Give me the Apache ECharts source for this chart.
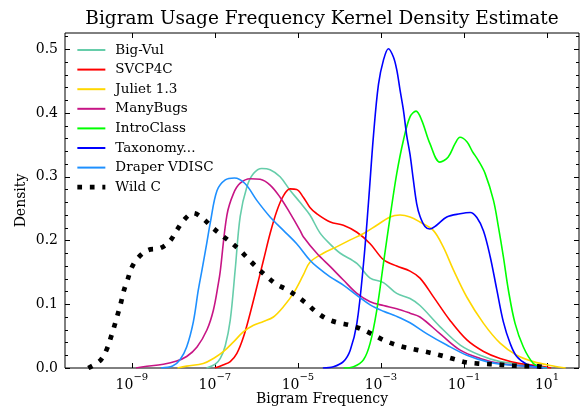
<!DOCTYPE html>
<html><head><meta charset="utf-8">
<script src="https://cdn.jsdelivr.net/npm/echarts@6/dist/echarts.min.js"></script>
<style>html,body{margin:0;padding:0;background:#fff}#c{width:581px;height:408px}</style>
</head><body><div id="c"></div>
<script>
// x values are log10(Bigram Frequency)
const seriesNames = ['Big-Vul','SVCP4C','Juliet 1.3','ManyBugs','IntroClass','Taxonomy...','Draper VDISC','Wild C'];
const seriesColors = ['#66CDAA','#FF0000','#FFD700','#C71585','#00FF00','#0000FF','#1E90FF','#000000'];

const bigVul = [[-7.2,0],[-6.99,0.006],[-6.87,0.015],[-6.75,0.035],[-6.63,0.075],[-6.51,0.155],[-6.39,0.238],[-6.23,0.284],[-6.07,0.305],[-5.87,0.313],[-5.67,0.311],[-5.43,0.300],[-5.19,0.279],[-4.95,0.260],[-4.71,0.240],[-4.47,0.212],[-4.22,0.194],[-3.98,0.180],[-3.58,0.164],[-3.26,0.141],[-2.94,0.134],[-2.62,0.117],[-2.30,0.109],[-2.06,0.098],[-1.58,0.065],[-1.09,0.036],[-0.61,0.020],[-0.13,0.010],[0.51,0.005],[1.0,0]];
const svcp4c = [[-7.0,0],[-6.79,0.005],[-6.63,0.010],[-6.47,0.023],[-6.31,0.049],[-6.15,0.086],[-5.99,0.127],[-5.83,0.169],[-5.67,0.211],[-5.51,0.246],[-5.35,0.270],[-5.19,0.281],[-5.03,0.280],[-4.87,0.268],[-4.71,0.252],[-4.545,0.242],[-4.22,0.229],[-3.905,0.224],[-3.58,0.213],[-3.26,0.195],[-2.94,0.170],[-2.62,0.160],[-2.30,0.152],[-2.06,0.141],[-1.74,0.112],[-1.34,0.075],[-0.93,0.044],[-0.53,0.026],[-0.13,0.015],[0.35,0.007],[0.83,0.003],[1.1,0]];
const juliet = [[-7.9,0],[-7.68,0.003],[-7.28,0.007],[-7.035,0.015],[-6.79,0.026],[-6.55,0.041],[-6.31,0.057],[-6.07,0.067],[-5.83,0.073],[-5.59,0.080],[-5.35,0.096],[-5.11,0.117],[-4.87,0.146],[-4.71,0.166],[-4.39,0.180],[-4.07,0.190],[-3.74,0.201],[-3.42,0.211],[-3.10,0.224],[-2.78,0.237],[-2.54,0.240],[-2.30,0.237],[-2.06,0.229],[-1.74,0.216],[-1.50,0.190],[-1.255,0.154],[-0.93,0.111],[-0.53,0.070],[-0.13,0.039],[0.27,0.020],[0.67,0.010],[1.15,0.003],[1.45,0]];
const manyBugs = [[-8.9,0],[-8.72,0.002],[-8.24,0.006],[-7.92,0.011],[-7.68,0.018],[-7.43,0.033],[-7.19,0.060],[-7.035,0.091],[-6.915,0.133],[-6.87,0.152],[-6.71,0.240],[-6.55,0.274],[-6.39,0.290],[-6.15,0.297],[-5.91,0.296],[-5.67,0.287],[-5.43,0.268],[-5.19,0.243],[-4.95,0.216],[-4.87,0.206],[-4.545,0.180],[-4.22,0.159],[-3.905,0.138],[-3.58,0.117],[-3.26,0.104],[-2.94,0.098],[-2.62,0.093],[-2.30,0.086],[-2.06,0.080],[-1.58,0.054],[-1.09,0.028],[-0.61,0.015],[-0.13,0.007],[0.51,0.003],[1.0,0]];
const introClass = [[-3.9,0],[-3.66,0.002],[-3.42,0.013],[-3.26,0.039],[-3.10,0.091],[-2.94,0.164],[-2.78,0.237],[-2.62,0.305],[-2.46,0.357],[-2.30,0.394],[-2.155,0.403],[-2.02,0.389],[-1.82,0.352],[-1.58,0.323],[-1.38,0.331],[-1.215,0.352],[-1.095,0.362],[-0.93,0.355],[-0.80,0.340],[-0.65,0.325],[-0.49,0.305],[-0.29,0.263],[-0.17,0.221],[-0.05,0.174],[0.07,0.122],[0.23,0.070],[0.43,0.033],[0.67,0.007],[0.83,0.002],[1.0,0]];
const taxonomy = [[-4.4,0],[-4.145,0.002],[-3.905,0.010],[-3.74,0.028],[-3.58,0.070],[-3.42,0.164],[-3.30,0.260],[-3.18,0.365],[-3.06,0.445],[-2.94,0.483],[-2.82,0.501],[-2.70,0.488],[-2.62,0.468],[-2.54,0.436],[-2.46,0.405],[-2.38,0.365],[-2.30,0.335],[-2.22,0.295],[-2.14,0.258],[-2.06,0.238],[-1.94,0.222],[-1.82,0.218],[-1.66,0.224],[-1.415,0.237],[-1.095,0.242],[-0.85,0.244],[-0.69,0.236],[-0.53,0.215],[-0.37,0.175],[-0.21,0.123],[-0.05,0.072],[0.115,0.038],[0.27,0.018],[0.51,0.006],[0.75,0.001],[0.9,0]];
const draper = [[-8.3,0],[-8.02,0.003],[-7.84,0.013],[-7.68,0.033],[-7.52,0.072],[-7.40,0.122],[-7.31,0.154],[-7.19,0.198],[-7.11,0.228],[-6.95,0.278],[-6.75,0.295],[-6.53,0.298],[-6.27,0.289],[-5.99,0.263],[-5.67,0.237],[-5.35,0.216],[-5.03,0.195],[-4.71,0.169],[-4.545,0.159],[-4.225,0.143],[-3.905,0.130],[-3.58,0.114],[-3.26,0.099],[-2.94,0.089],[-2.62,0.081],[-2.30,0.071],[-1.90,0.054],[-1.415,0.036],[-0.93,0.020],[-0.45,0.010],[0.03,0.005],[0.66,0.002],[1.0,0]];
const wildC = [[-10.05,0],[-9.75,0.0125],[-9.60,0.030],[-9.51,0.047],[-9.42,0.066],[-9.34,0.084],[-9.26,0.103],[-9.19,0.122],[-9.10,0.139],[-9.0,0.158],[-8.85,0.173],[-8.61,0.185],[-8.32,0.188],[-8.085,0.199],[-7.92,0.216],[-7.75,0.232],[-7.52,0.243],[-7.28,0.234],[-7.07,0.221],[-6.83,0.208],[-6.61,0.197],[-6.385,0.184],[-6.18,0.170],[-5.96,0.156],[-5.74,0.143],[-5.51,0.131],[-5.26,0.123],[-5.01,0.112],[-4.77,0.100],[-4.56,0.088],[-4.30,0.077],[-4.03,0.071],[-3.74,0.067],[-3.47,0.061],[-3.21,0.053],[-2.94,0.044],[-2.67,0.037],[-2.40,0.032],[-2.11,0.028],[-1.82,0.024],[-1.51,0.019],[-1.24,0.014],[-0.96,0.009],[-0.655,0.007],[-0.37,0.006],[-0.08,0.005],[0.21,0.0035],[0.51,0.003],[0.79,0.0027],[1.0,0]];

const xTickExponents = [-9,-7,-5,-3,-1,1];
const yMajorTicks = [0,0.1,0.2,0.3,0.4,0.5];
const yMinorTicks = [0,0.02,0.04,0.06,0.08,0.1,0.12,0.14,0.16,0.18,0.2,0.22,0.24,0.26,0.28,0.3,0.32,0.34,0.36,0.38,0.4,0.42,0.44,0.46,0.48,0.5,0.52];

const allData = [bigVul, svcp4c, juliet, manyBugs, introClass, taxonomy, draper, wildC];
const F = 'DejaVu Serif';
const X_MIN = -10.61, X_MAX = 1.77, Y_MAX = 0.5256;
const WILD_DASH = {width:4.7, type:[4.7,7.8], cap:'butt'};

function yAx(pos, ticks, len, labels, name) {
  return {
    type:'value', min:0, max:Y_MAX, position:pos, gridIndex:0,
    name: name || '', nameLocation:'middle', nameGap:37, nameRotate:90, nameMoveOverlap:false,
    nameTextStyle:{fontFamily:F, fontSize:14, color:'#000'},
    axisLine:{show:false, onZero:false}, splitLine:{show:false},
    axisTick:{show:true, inside:true, length:len, customValues:ticks, lineStyle:{color:'#000', width:1}},
    axisLabel:{show:labels, customValues:ticks, margin:7, fontFamily:F, fontSize:14, color:'#000',
      formatter: v => v.toFixed(1)}
  };
}
function xAx(pos, labels, name) {
  return {
    type:'value', min:X_MIN, max:X_MAX, position:pos, gridIndex:0,
    name: name || '', nameLocation:'middle', nameGap:24, nameMoveOverlap:false,
    nameTextStyle:{fontFamily:F, fontSize:14, color:'#000'},
    axisLine:{show:false, onZero:false}, splitLine:{show:false},
    axisTick:{show:true, inside:true, length:5, customValues:xTickExponents, lineStyle:{color:'#000', width:1}},
    axisLabel:{show:labels, customValues:xTickExponents, margin:4, color:'#000',
      formatter: v => '{b|10}{s|' + (v < 0 ? '\u2212' + (-v) : String(v)) + '}',
      rich:{ b:{fontFamily:F, fontSize:14, color:'#000', lineHeight:20, verticalAlign:'bottom'},
             s:{fontFamily:F, fontSize:10, color:'#000', lineHeight:12, verticalAlign:'top'} }
    }
  };
}

const chart = echarts.init(document.getElementById('c'), null, {renderer:'canvas'});
chart.setOption({
  animation:false,
  backgroundColor:'#fff',
  title:{text:'Bigram Usage Frequency Kernel Density Estimate', left:317, top:5, textAlign:'center',
    textStyle:{fontFamily:F, fontSize:18.5, fontWeight:'normal', color:'#000'}},
  grid:{left:65, right:2, top:33, bottom:40, show:true, borderColor:'#000', borderWidth:1,
    backgroundColor:'transparent', outerBoundsMode:'none', containLabel:false},
  legend:{orient:'vertical', left:70, top:38, itemWidth:28, itemHeight:14, itemGap:5.6,
    itemStyle:{opacity:0},
    textStyle:{fontFamily:F, fontSize:13.5, lineHeight:14, color:'#000', padding:[0,0,0,5]},
    data: seriesNames.map((n, i) => i === 7 ? {name:n, lineStyle:Object.assign({color:'#000'}, WILD_DASH)} : n)},
  xAxis:[xAx('bottom', true, 'Bigram Frequency'), xAx('top', false)],
  yAxis:[yAx('left', yMajorTicks, 5, true, 'Density'), yAx('right', yMajorTicks, 5, false),
         yAx('left', yMinorTicks, 3, false), yAx('right', yMinorTicks, 3, false)],
  series: seriesNames.map((n, i) => ({
    name:n, type:'line', xAxisIndex:0, yAxisIndex:0, data:allData[i],
    symbol:'none', showSymbol:false, smooth:0.35, color:seriesColors[i],
    lineStyle: i === 7 ? Object.assign({color:'#000'}, WILD_DASH) : {color:seriesColors[i], width:1.6},
    z: 2 + i
  }))
});
</script>
</body></html>
